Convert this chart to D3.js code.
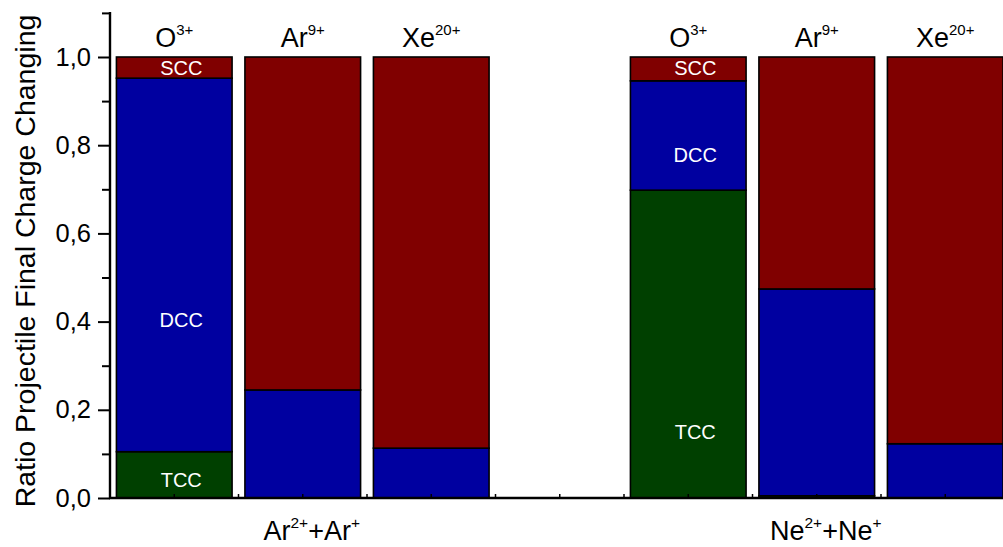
<!DOCTYPE html>
<html><head><meta charset="utf-8">
<script src="https://cdn.jsdelivr.net/npm/d3@7"></script>
<style>body{margin:0;background:#fff}svg{display:block;font-family:"Liberation Sans",Arial,sans-serif}</style>
</head><body><svg id="c" width="1003" height="547"></svg>
<script>
// ---- data ----
const slots = ["O-ArAr","Ar-ArAr","Xe-ArAr","gap","O-NeNe","Ar-NeNe","Xe-NeNe"];
const projBase = ["O","Ar","Xe","","O","Ar","Xe"];
const projSup  = ["3+","9+","20+","","3+","9+","20+"];
const tcc = [0.105, 0, 0, 0, 0.698, 0.005, 0];
const dcc = [0.847, 0.245, 0.113, 0, 0.248, 0.469, 0.123];
const scc = [0.048, 0.755, 0.887, 0, 0.054, 0.526, 0.877];
const seriesKeys = ["TCC","DCC","SCC"];
const seriesColors = ["#004000","#0000A0","#800000"];
const groupSlots = ["Ar-ArAr","Ar-NeNe"];
const groupParts = [[["Ar",""],["2+","sup"],["+Ar",""],["+","sup"]],[["Ne",""],["2+","sup"],["+Ne",""],["+","sup"]]];
const annText = ["SCC","DCC","TCC","SCC","DCC","TCC"];
const annSlot = ["O-ArAr","O-ArAr","O-ArAr","O-NeNe","O-NeNe","O-NeNe"];
const annVal  = [0.976, 0.404, 0.042, 0.976, 0.779, 0.150];
const yMajor = [0,0.2,0.4,0.6,0.8,1.0];
const yMinor = [0.1,0.3,0.5,0.7,0.9,1.1];

// ---- layout ----
const svg = d3.select("#c");
const x = d3.scaleBand().domain(slots).range([110, 1009.5]).paddingInner(0.1).paddingOuter(0.05);
const y = d3.scaleLinear().domain([0,1.1]).range([498, 12.9]);

const rows = slots.map((s,i)=>({slot:s, TCC:tcc[i], DCC:dcc[i], SCC:scc[i]}));
const stacked = d3.stack().keys(seriesKeys)(rows);

const bars = svg.append("g");
stacked.forEach((layer,li)=>{
  bars.selectAll(null).data(layer.filter(d=>d.data.slot!=="gap" && d[1]-d[0]>0)).join("rect")
    .attr("x", d=>x(d.data.slot)).attr("width", x.bandwidth())
    .attr("y", d=>y(d[1])).attr("height", d=>y(d[0])-y(d[1]))
    .attr("fill", seriesColors[li]).attr("stroke","#000").attr("stroke-width",1.6);
});

// annotations inside bars
svg.append("g").selectAll("text").data(annText).join("text")
  .attr("x",(d,i)=>x(annSlot[i])+x.bandwidth()/2+7)
  .attr("y",(d,i)=>y(annVal[i]))
  .attr("dy","0.36em").attr("text-anchor","middle")
  .attr("fill","#fff").attr("font-size",20).text(d=>d);

// projectile labels above bars
const pl = svg.append("g").selectAll("text").data(slots.filter(s=>s!=="gap")).join("text")
  .attr("x", s=>x(s)+x.bandwidth()/2).attr("y",47).attr("text-anchor","middle").attr("font-size",27);
pl.each(function(s){
  const i = slots.indexOf(s);
  const t = d3.select(this);
  t.append("tspan").text(projBase[i]);
  t.append("tspan").attr("dy",-12).attr("font-size",15).text(projSup[i]);
});

// y axis
const yAxis = svg.append("g").attr("transform","translate(110,0)")
  .call(d3.axisLeft(y).tickValues(yMajor).tickSize(12).tickPadding(7).tickFormat(d=>d3.format(".1f")(d).replace(".",",")));
yAxis.select(".domain").remove();
yAxis.selectAll(".tick line").attr("stroke-width",2);
yAxis.selectAll(".tick text").attr("font-size",25.5).attr("font-family","Liberation Sans, Arial, sans-serif").attr("fill","#000");
svg.append("g").attr("transform","translate(110,0)")
  .call(d3.axisLeft(y).tickValues(yMinor).tickSize(8).tickFormat(""))
  .call(g=>{g.select(".domain").remove(); g.selectAll(".tick line").attr("stroke-width",2);});
svg.append("line").attr("x1",110).attr("x2",110).attr("y1",y(1.1)-1).attr("y2",y(0)+1)
  .attr("stroke","#000").attr("stroke-width",2.4);

// x axis
const step = x.step();
const xTicks = d3.range(0, slots.length*2+1).map(k=>110 + k*step/2);
svg.append("g").selectAll("line").data(xTicks).join("line")
  .attr("x1",d=>d).attr("x2",d=>d).attr("y1",y(0)).attr("y2",y(0)-4)
  .attr("stroke","#000").attr("stroke-width",1.5);
svg.append("line").attr("x1",109).attr("x2",1003).attr("y1",y(0)).attr("y2",y(0))
  .attr("stroke","#000").attr("stroke-width",2.4);

// group labels
groupSlots.forEach((s,gi)=>{
  const t = svg.append("text").attr("x", x(s)+x.bandwidth()/2+9).attr("y",540)
    .attr("text-anchor","middle").attr("font-size",27);
  groupParts[gi].forEach((p,pi)=>{
    if(p[1]==="sup") t.append("tspan").attr("dy",-12).attr("font-size",15.5).text(p[0]);
    else t.append("tspan").attr("dy", pi>0 ? 12 : 0).attr("font-size",27).text(p[0]);
  });
});

// y title
svg.append("text").attr("transform","translate(35,261) rotate(-90)")
  .attr("text-anchor","middle").attr("font-size",28.5).text("Ratio Projectile Final Charge Changing");
</script></body></html>
